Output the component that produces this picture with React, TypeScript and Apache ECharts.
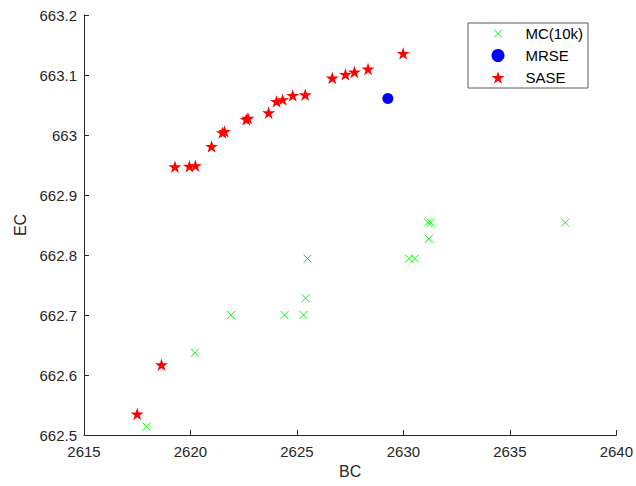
import React, { useEffect, useRef } from "react";
import * as echarts from "echarts";

const xTicks = { min: 2615, max: 2640, interval: 5 };
const yTicks = { min: 662.5, max: 663.2, interval: 0.1 };

const mcBC = [2617.94, 2620.21, 2621.91, 2624.42, 2625.31, 2625.41, 2625.5, 2630.26, 2630.54, 2631.15, 2631.28, 2631.2, 2637.6];
const mcEC = [662.514, 662.637, 662.7, 662.7, 662.7, 662.728, 662.794, 662.794, 662.794, 662.854, 662.854, 662.827, 662.854];

const mrseBC = [2629.27];
const mrseEC = [663.061];

const saseBC = [2617.5, 2618.64, 2619.27, 2619.95, 2620.23, 2620.99, 2621.5, 2621.6, 2622.62, 2622.7, 2623.67, 2624.04, 2624.33, 2624.8, 2625.39, 2626.66, 2627.28, 2627.7, 2628.34, 2629.99];
const saseEC = [662.535, 662.617, 662.947, 662.948, 662.949, 662.981, 663.004, 663.006, 663.026, 663.028, 663.037, 663.056, 663.059, 663.066, 663.067, 663.095, 663.101, 663.105, 663.11, 663.136];

const seriesNames = ["MC(10k)", "MRSE", "SASE"];

const CROSS = "path://M0,0L10,10M10,0L0,10";
const CROSS_LEGEND = "path://M-3,-3M13,13M0,0L10,10M10,0L0,10";
const STAR =
  "path://M0,-100L22.45,-30.9L95.1,-30.9L36.3,11.8L58.8,80.9L0,38.2L-58.8,80.9L-36.3,11.8L-95.1,-30.9L-22.45,-30.9Z";

const FONT = "Liberation Sans";
const TXT = "#262626";

function zip(a: number[], b: number[]) {
  return a.map((v, i) => [v, b[i]]);
}

export default function App() {
  const ref = useRef<HTMLDivElement>(null);
  useEffect(() => {
    document.body.style.margin = "0";
    if (!ref.current) return;
    const chart = echarts.init(ref.current, undefined, { renderer: "svg" });
    chart.setOption({
      animation: false,
      backgroundColor: "#ffffff",
      textStyle: { fontFamily: FONT },
      grid: { left: 84, right: 18, top: 15, bottom: 51 },
      xAxis: {
        type: "value",
        min: xTicks.min,
        max: xTicks.max,
        interval: xTicks.interval,
        name: "BC",
        nameLocation: "middle",
        nameGap: 27,
        nameTextStyle: { color: TXT, fontSize: 16, fontFamily: FONT },
        axisLine: { show: true, lineStyle: { color: TXT, width: 1 } },
        axisTick: { show: true, inside: true, length: 5, lineStyle: { color: TXT } },
        axisLabel: {
          color: TXT,
          fontSize: 15,
          fontFamily: FONT,
          margin: 9,
          formatter: (v: number) => String(v),
        },
        splitLine: { show: false },
      },
      yAxis: {
        type: "value",
        min: yTicks.min,
        max: yTicks.max,
        interval: yTicks.interval,
        name: "EC",
        nameLocation: "middle",
        nameGap: 56,
        nameTextStyle: { color: TXT, fontSize: 16, fontFamily: FONT },
        axisLine: { show: true, lineStyle: { color: TXT, width: 1 } },
        axisTick: { show: true, inside: true, length: 5, lineStyle: { color: TXT } },
        axisLabel: {
          color: TXT,
          fontSize: 15,
          fontFamily: FONT,
          margin: 7,
          formatter: (v: number) => String(+v.toFixed(1)),
        },
        splitLine: { show: false },
      },
      legend: {
        orient: "vertical",
        left: 468,
        top: 23,
        padding: [3, 5, 3, 23],
        itemWidth: 13,
        itemHeight: 13,
        itemGap: 7,
        backgroundColor: "#ffffff",
        borderColor: "#5a5a5a",
        borderWidth: 1,
        borderRadius: 0,
        textStyle: { color: "#000", fontSize: 15, fontFamily: FONT, padding: [0, 0, 0, 16] },
        data: [
          { name: seriesNames[0], icon: CROSS_LEGEND, itemStyle: { borderWidth: 1 } },
          { name: seriesNames[1], icon: "circle" },
          { name: seriesNames[2], icon: STAR },
        ],
      },
      series: [
        {
          name: seriesNames[0],
          type: "scatter",
          data: zip(mcBC, mcEC),
          symbol: CROSS,
          symbolSize: 8,
          itemStyle: { color: "transparent", borderColor: "#00ff00", borderWidth: 1, opacity: 1 },
          emphasis: { disabled: true },
        },
        {
          name: seriesNames[1],
          type: "scatter",
          data: zip(mrseBC, mrseEC),
          symbol: "circle",
          symbolSize: 11,
          itemStyle: { color: "#0000ff", opacity: 1 },
          emphasis: { disabled: true },
        },
        {
          name: seriesNames[2],
          type: "scatter",
          data: zip(saseBC, saseEC),
          symbol: STAR,
          symbolSize: 13,
          symbolKeepAspect: true,
          itemStyle: { color: "#ff0000", opacity: 1 },
          emphasis: { disabled: true },
        },
      ],
    });
    return () => chart.dispose();
  }, []);
  return <div ref={ref} style={{ width: 636, height: 486 }} />;
}
